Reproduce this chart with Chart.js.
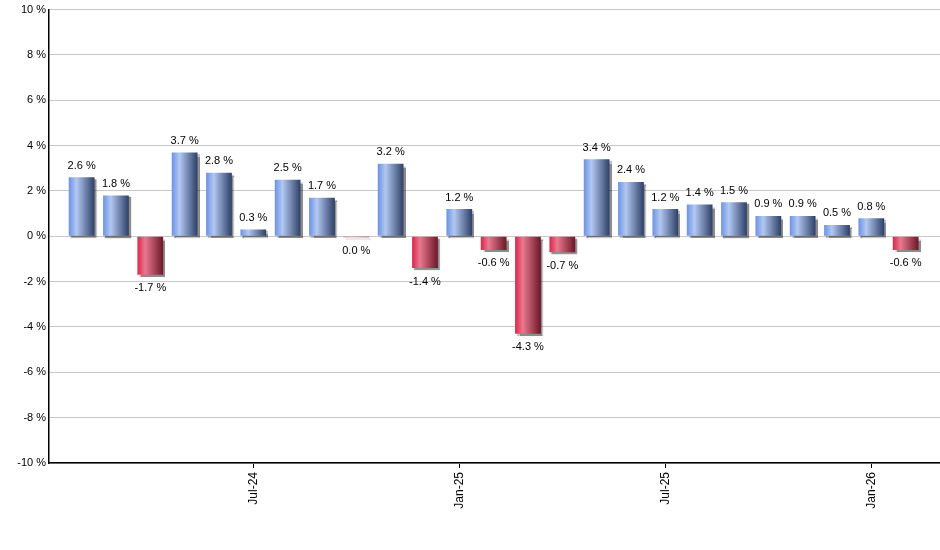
<!DOCTYPE html>
<html>
<head>
<meta charset="utf-8">
<script src="https://cdn.jsdelivr.net/npm/chart.js@4/dist/chart.umd.min.js"></script>
<style>
  html, body { margin: 0; padding: 0; background: #fff; }
  #wrap { width: 940px; height: 550px; }
</style>
</head>
<body>
<div id="wrap"><canvas id="chart" width="940" height="550"></canvas></div>
<script>
// 月次の騰落率 (%)
const months = ["Feb-24", "Mar-24", "Apr-24", "May-24", "Jun-24", "Jul-24", "Aug-24", "Sep-24", "Oct-24",
    "Nov-24", "Dec-24", "Jan-25", "Feb-25", "Mar-25", "Apr-25", "May-25", "Jun-25", "Jul-25", "Aug-25",
    "Sep-25", "Oct-25", "Nov-25", "Dec-25", "Jan-26", "Feb-26"];
const changes = [2.6, 1.8, -1.7, 3.7, 2.8, 0.3, 2.5, 1.7, -0.04, 3.2, -1.4, 1.2, -0.6, -4.3, -0.7,
    3.4, 2.4, 1.2, 1.4, 1.5, 0.9, 0.9, 0.5, 0.8, -0.6];
const shownTicks = ["Jul-24", "Jan-25", "Jul-25", "Jan-26"];
const yTicks = [-10, -8, -6, -4, -2, 0, 2, 4, 6, 8, 10];

function fmt(v) {
    return (Math.round(v * 10) / 10).toFixed(1) + " %";
}

// バーにグラデーションと影をつける
const barStyle = {
    id: "barStyle",
    beforeDatasetsDraw(chart) {
        const ctx = chart.ctx;
        chart.getDatasetMeta(0).data.forEach((bar, i) => {
            const x0 = bar.x - bar.width / 2;
            const g = ctx.createLinearGradient(x0, 0, x0 + bar.width, 0);
            if (changes[i] >= 0) {
                g.addColorStop(0, "#6b92e2");
                g.addColorStop(0.3, "#b2c8f2");
                g.addColorStop(1, "#2d3f66");
            } else {
                g.addColorStop(0, "#dc2449");
                g.addColorStop(0.3, "#e9798f");
                g.addColorStop(1, "#6c1627");
            }
            // オプションは共有されることがあるのでコピーしてから変更
            bar.options = Object.assign({}, bar.options, { backgroundColor: g });
        });
        ctx.save();
        ctx.shadowColor = "rgba(0,0,0,0.45)";
        ctx.shadowOffsetX = 2;
        ctx.shadowOffsetY = 2;
        ctx.shadowBlur = 1;
    },
    afterDatasetsDraw(chart) {
        const ctx = chart.ctx;
        ctx.restore();
        // 値ラベル
        ctx.save();
        ctx.font = "11px 'Liberation Sans', Arial, sans-serif";
        ctx.fillStyle = "#000";
        ctx.textAlign = "center";
        chart.getDatasetMeta(0).data.forEach((bar, i) => {
            const v = changes[i];
            if (v >= 0) {
                ctx.textBaseline = "bottom";
                ctx.fillText(fmt(v), bar.x, bar.y - 6);
            } else {
                ctx.textBaseline = "top";
                ctx.fillText(fmt(v), bar.x, bar.y + 8);
            }
        });
        ctx.restore();
    },
};

new Chart(document.getElementById("chart").getContext("2d"), {
    type: "bar",
    data: {
        datasets: [{
            data: changes.map((v, i) => ({ x: i, y: v })),
            backgroundColor: (c) => changes[c.dataIndex] >= 0 ? "#6b92e2" : "#dc2449",
            barPercentage: 0.75,
            categoryPercentage: 1.0,
        }],
    },
    options: {
        responsive: false,
        animation: false,
        layout: { padding: { top: 9, right: 0, left: 0, bottom: 0 } },
        plugins: {
            legend: { display: false },
            tooltip: { enabled: false },
        },
        scales: {
            x: {
                type: "linear",
                offset: false,
                min: -0.95,
                max: 25,
                afterBuildTicks: (s) => {
                    s.ticks = shownTicks.map((m) => ({ value: months.indexOf(m) }));
                },
                grid: {
                    offset: false,
                    drawOnChartArea: false,
                    drawTicks: true,
                    tickLength: 5,
                    color: "#000",
                },
                border: { color: "#000", width: 1.5 },
                ticks: {
                    autoSkip: false,
                    maxRotation: 90,
                    minRotation: 90,
                    padding: 4,
                    color: "#000",
                    font: { family: "'Liberation Sans', Arial, sans-serif", size: 12 },
                    callback: (v) => months[v],
                },
                afterFit: (s) => { s.height = 87; },
            },
            y: {
                min: -10,
                max: 10,
                afterBuildTicks: (s) => { s.ticks = yTicks.map((v) => ({ value: v })); },
                grid: { color: "#c8c8c8", drawTicks: false },
                border: { color: "#000", width: 1.5 },
                ticks: {
                    padding: 3,
                    color: "#000",
                    font: { family: "'Liberation Sans', Arial, sans-serif", size: 11 },
                    callback: (v) => v + " %",
                },
                afterFit: (s) => { s.width = 49; },
            },
        },
    },
    plugins: [barStyle],
});
</script>
</body>
</html>
